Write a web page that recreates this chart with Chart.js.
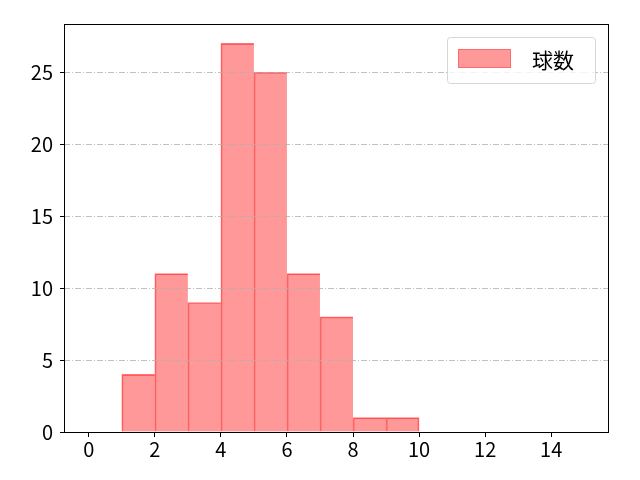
<!DOCTYPE html>
<html>
<head>
<meta charset="UTF-8">
<title>球数</title>
<script src="https://cdn.jsdelivr.net/npm/chart.js"></script>
<style>
  html, body { margin: 0; padding: 0; background: #fff; }
  #wrap { width: 640px; height: 480px; }
</style>
</head>
<body>
<div id="wrap"><canvas id="chart" width="640" height="480"></canvas></div>
<script>
// histogram bins (left edges) and counts
var binStarts = [1, 2, 3, 4, 5, 6, 7, 8, 9];
var counts = [4, 11, 9, 27, 25, 11, 8, 1, 1];
var seriesLabel = '球数';
var xTicks = [0, 2, 4, 6, 8, 10, 12, 14];
var yTicks = [0, 5, 10, 15, 20, 25];

var FONT = '"Noto Sans CJK JP", "Noto Sans", sans-serif';

var points = binStarts.map(function(b, i) {
    return { x: b + 0.5, y: counts[i] };
});

// grid over the bars, frame and legend
var framePlugin = {
    id: 'frame',
    afterDatasetsDraw: function(chart) {
        var ctx = chart.ctx;
        var a = chart.chartArea;
        var ys = chart.scales.y;
        ctx.save();
        ctx.strokeStyle = '#b0b0b0';
        ctx.lineWidth = 0.8;
        ctx.setLineDash([6, 2, 1, 2]);
        yTicks.forEach(function(v) {
            if (v === 0) return;
            var py = Math.round(ys.getPixelForValue(v)) + 0.5;
            ctx.beginPath();
            ctx.moveTo(a.left, py);
            ctx.lineTo(a.right, py);
            ctx.stroke();
        });
        ctx.restore();
    },
    afterDraw: function(chart) {
        var ctx = chart.ctx;
        var a = chart.chartArea;
        ctx.save();
        ctx.strokeStyle = '#000';
        ctx.lineWidth = 1;
        ctx.strokeRect(a.left + 0.5, a.top + 0.5, a.right - a.left - 1, a.bottom - a.top);

        // legend box
        var bx = 447, by = 37, bw = 148, bh = 46;
        ctx.fillStyle = 'rgba(255,255,255,0.8)';
        ctx.strokeStyle = '#d6d6d6';
        ctx.beginPath();
        ctx.roundRect(bx + 0.5, by + 0.5, bw, bh, 3);
        ctx.fill();
        ctx.stroke();
        ctx.fillStyle = 'rgba(255,0,0,0.4)';
        ctx.fillRect(458, 49, 53, 19);
        ctx.strokeStyle = 'rgba(255,0,0,0.3)';
        ctx.strokeRect(458.5, 49.5, 52, 18);
        ctx.fillStyle = '#000';
        ctx.font = '21px ' + FONT;
        ctx.textBaseline = 'middle';
        ctx.fillText(chart.data.datasets[0].label, 532, 60);
        ctx.restore();
    }
};

var lastBar = counts.length - 1;
var ctx = document.getElementById('chart').getContext('2d');
var chart = new Chart(ctx, {
    type: 'bar',
    data: {
        datasets: [{
            label: seriesLabel,
            data: points,
            backgroundColor: 'rgba(255,0,0,0.4)',
            borderColor: 'rgba(255,0,0,0.55)',
            borderWidth: function(c) {
                return { left: 1, top: 1, right: c.dataIndex === lastBar ? 1 : 0, bottom: 0 };
            },
            borderSkipped: false,
            barPercentage: 1.0,
            categoryPercentage: 1.0,
            grouped: false
        }]
    },
    options: {
        responsive: false,
        animation: false,
        layout: { padding: { left: 0, right: 31, top: 24, bottom: 0 } },
        plugins: {
            legend: { display: false },
            tooltip: { enabled: false }
        },
        scales: {
            x: {
                type: 'linear',
                offset: false,
                min: -0.75,
                max: 15.75,
                afterBuildTicks: function(axis) {
                    axis.ticks = xTicks.map(function(v) { return { value: v }; });
                },
                afterFit: function(axis) { axis.height = 48; },
                grid: {
                    display: true,
                    offset: false,
                    drawOnChartArea: false,
                    drawTicks: true,
                    tickLength: 5,
                    color: '#000'
                },
                border: { display: false },
                ticks: {
                    color: '#000',
                    font: { size: 20, family: FONT },
                    padding: 0,
                    maxRotation: 0
                }
            },
            y: {
                min: 0,
                max: 28.35,
                afterBuildTicks: function(axis) {
                    axis.ticks = yTicks.map(function(v) { return { value: v }; });
                },
                afterFit: function(axis) { axis.width = 64; },
                grid: {
                    display: true,
                    drawOnChartArea: false,
                    drawTicks: true,
                    tickLength: 4,
                    color: '#000'
                },
                border: { display: false },
                ticks: {
                    color: '#000',
                    font: { size: 20, family: FONT },
                    padding: 7
                }
            }
        }
    },
    plugins: [framePlugin]
});
</script>
</body>
</html>
